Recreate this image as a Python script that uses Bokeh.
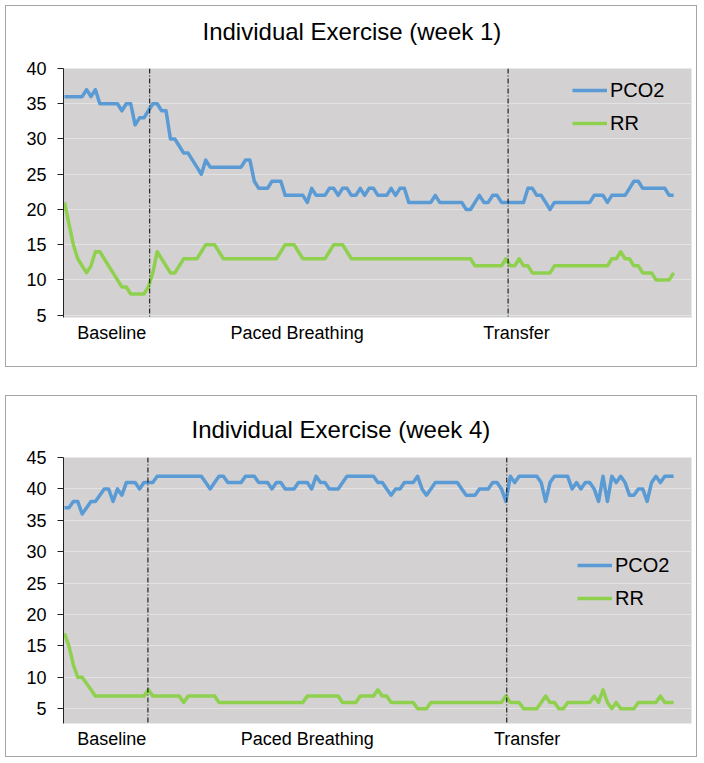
from bokeh.plotting import figure
from bokeh.models import FixedTicker, Span, Legend, LegendItem, Range1d, Title
from bokeh.layouts import column
from bokeh.embed import file_html
from bokeh.resources import INLINE

# ---------------- data ----------------
sample = list(range(139))

pco2_week1 = [36, 36, 36, 36, 36, 37, 36, 37, 35, 35, 35, 35, 35, 34, 35, 35, 32, 33, 33, 34,
              35, 35, 34, 34, 30, 30, 29, 28, 28, 27, 26, 25, 27, 26, 26, 26, 26, 26, 26, 26,
              26, 27, 27, 24, 23, 23, 23, 24, 24, 24, 22, 22, 22, 22, 22, 21, 23, 22, 22, 22,
              23, 23, 22, 23, 23, 22, 22, 23, 22, 23, 23, 22, 22, 22, 23, 22, 23, 23, 21, 21,
              21, 21, 21, 21, 22, 21, 21, 21, 21, 21, 21, 20, 20, 21, 22, 21, 21, 22, 22, 21,
              21, 21, 21, 21, 21, 23, 23, 22, 22, 21, 20, 21, 21, 21, 21, 21, 21, 21, 21, 21,
              22, 22, 22, 21, 22, 22, 22, 22, 23, 24, 24, 23, 23, 23, 23, 23, 23, 22, 22]

rr_week1 = [21, 18, 15, 13, 12, 11, 12, 14, 14, 13, 12, 11, 10, 9, 9, 8, 8, 8, 8, 9,
            11, 14, 13, 12, 11, 11, 12, 13, 13, 13, 13, 14, 15, 15, 15, 14, 13, 13, 13, 13,
            13, 13, 13, 13, 13, 13, 13, 13, 13, 14, 15, 15, 15, 14, 13, 13, 13, 13, 13, 13,
            14, 15, 15, 15, 14, 13, 13, 13, 13, 13, 13, 13, 13, 13, 13, 13, 13, 13, 13, 13,
            13, 13, 13, 13, 13, 13, 13, 13, 13, 13, 13, 13, 13, 12, 12, 12, 12, 12, 12, 12,
            13, 12, 12, 13, 12, 12, 11, 11, 11, 11, 11, 12, 12, 12, 12, 12, 12, 12, 12, 12,
            12, 12, 12, 12, 13, 13, 14, 13, 13, 12, 12, 11, 11, 11, 10, 10, 10, 10, 11]

pco2_week4 = [37, 37, 38, 38, 36, 37, 38, 38, 39, 40, 40, 38, 40, 39, 41, 41, 41, 40, 41, 41,
              41, 42, 42, 42, 42, 42, 42, 42, 42, 42, 42, 42, 41, 40, 41, 42, 42, 41, 41, 41,
              41, 42, 42, 42, 41, 41, 41, 40, 41, 41, 40, 40, 40, 41, 41, 41, 40, 42, 41, 41,
              40, 40, 40, 41, 42, 42, 42, 42, 42, 42, 42, 41, 41, 40, 39, 40, 40, 41, 41, 41,
              42, 40, 39, 40, 41, 41, 41, 41, 41, 41, 40, 39, 39, 39, 40, 40, 40, 41, 41, 40,
              38, 42, 41, 42, 42, 42, 42, 42, 41, 38, 41, 42, 42, 42, 42, 40, 41, 40, 41, 41,
              40, 38, 42, 38, 42, 41, 42, 41, 39, 39, 40, 40, 38, 41, 42, 41, 42, 42, 42]

rr_week4 = [17, 15, 12, 10, 10, 9, 8, 7, 7, 7, 7, 7, 7, 7, 7, 7, 7, 7, 7, 8,
            7, 7, 7, 7, 7, 7, 7, 6, 7, 7, 7, 7, 7, 7, 7, 6, 6, 6, 6, 6,
            6, 6, 6, 6, 6, 6, 6, 6, 6, 6, 6, 6, 6, 6, 6, 7, 7, 7, 7, 7,
            7, 7, 7, 6, 6, 6, 6, 7, 7, 7, 7, 8, 7, 7, 6, 6, 6, 6, 6, 6,
            5, 5, 5, 6, 6, 6, 6, 6, 6, 6, 6, 6, 6, 6, 6, 6, 6, 6, 6, 6,
            7, 6, 6, 6, 5, 5, 5, 5, 6, 7, 6, 6, 5, 5, 6, 6, 6, 6, 6, 6,
            7, 6, 8, 6, 5, 6, 5, 5, 5, 5, 6, 6, 6, 6, 6, 7, 6, 6, 6]

phase_bounds_week1 = [19.3, 100.5]
phase_bounds_week4 = [18.9, 100.2]
phase_labels = ["Baseline", "Paced Breathing", "Transfer"]
phase_label_pos_week1 = [10.7, 52.7, 102.4]
phase_label_pos_week4 = [10.7, 55.0, 104.8]
yticks_week1 = [5, 10, 15, 20, 25, 30, 35, 40]
yticks_week4 = [5, 10, 15, 20, 25, 30, 35, 40, 45]

FONT = "Liberation Sans"
BLUE = "#5B9BD5"
GREEN = "#8FD14F"


def make_panel(title, pco2, rr, yrange, yticks, bounds, lab_pos, frame_h,
               b_top, b_bottom, leg_xy, title_gap, title_offset):
    p = figure(frame_width=626, frame_height=frame_h,
               min_border_left=57, min_border_right=7,
               min_border_top=b_top, min_border_bottom=b_bottom,
               x_range=Range1d(-0.23, 142.05), y_range=Range1d(*yrange),
               output_backend="svg", toolbar_location=None)
    p.background_fill_color = "#D3D1D1"
    p.border_fill_color = "white"
    p.outline_line_color = None
    p.styles = {"border": "1px solid #A6A6A6"}

    # spacer between plot area and title, then the title itself
    p.add_layout(Title(text=" ", text_font_size="1px", standoff=title_gap), "above")
    p.add_layout(Title(text=title, align="left", vertical_align="bottom",
                       offset=title_offset, standoff=0, text_font=FONT,
                       text_font_size="24px", text_font_style="normal",
                       text_color="#000000"), "above")

    p.xgrid.visible = False
    p.ygrid.ticker = FixedTicker(ticks=yticks)
    p.ygrid.grid_line_color = "#E4E3E3"
    p.ygrid.grid_line_width = 1

    ya = p.yaxis[0]
    ya.ticker = FixedTicker(ticks=yticks)
    ya.axis_line_color = "#222222"
    ya.major_tick_line_color = "#222222"
    ya.major_tick_out = 6
    ya.major_tick_in = 0
    ya.minor_tick_line_color = None
    ya.major_label_standoff = 11
    ya.major_label_text_font = FONT
    ya.major_label_text_font_size = "18px"
    ya.major_label_text_color = "#000000"

    xa = p.xaxis[0]
    xa.ticker = FixedTicker(ticks=lab_pos)
    xa.major_label_overrides = {pos: lab for pos, lab in zip(lab_pos, phase_labels)}
    xa.axis_line_color = None
    xa.major_tick_line_color = None
    xa.minor_tick_line_color = None
    xa.major_tick_out = 0
    xa.major_label_standoff = 5
    xa.major_label_text_font = FONT
    xa.major_label_text_font_size = "18px"
    xa.major_label_text_color = "#000000"

    for b in bounds:
        p.add_layout(Span(location=b, dimension="height", line_color="#000000",
                          line_width=1, line_dash="5 2 1 2"))

    l1 = p.line(sample, pco2, line_color=BLUE, line_width=3.5, line_join="round")
    l2 = p.line(sample, rr, line_color=GREEN, line_width=3.5, line_join="round")

    legend = Legend(items=[LegendItem(label="PCO2", renderers=[l1]),
                           LegendItem(label="RR", renderers=[l2])],
                    location=leg_xy, orientation="vertical",
                    background_fill_alpha=0, border_line_color=None,
                    label_text_font=FONT, label_text_font_size="20px",
                    label_text_color="#000000",
                    glyph_width=35, glyph_height=26, label_height=26,
                    label_standoff=3, spacing=7, padding=0, margin=0)
    p.add_layout(legend)
    return p


p1 = make_panel("Individual Exercise (week 1)", pco2_week1, rr_week1, (4.67, 40),
                yticks_week1, phase_bounds_week1, phase_label_pos_week1,
                247, 62, 51, (509, 181), 21, 139)
p2 = make_panel("Individual Exercise (week 4)", pco2_week4, rr_week4, (2.64, 45),
                yticks_week4, phase_bounds_week4, phase_label_pos_week4,
                264, 61, 35, (514, 112), 12, 128)

layout = column(p1, p2, spacing=28, margin=(5, 0, 0, 5))

with open("out.html", "w") as f:
    f.write(file_html(layout, INLINE))
